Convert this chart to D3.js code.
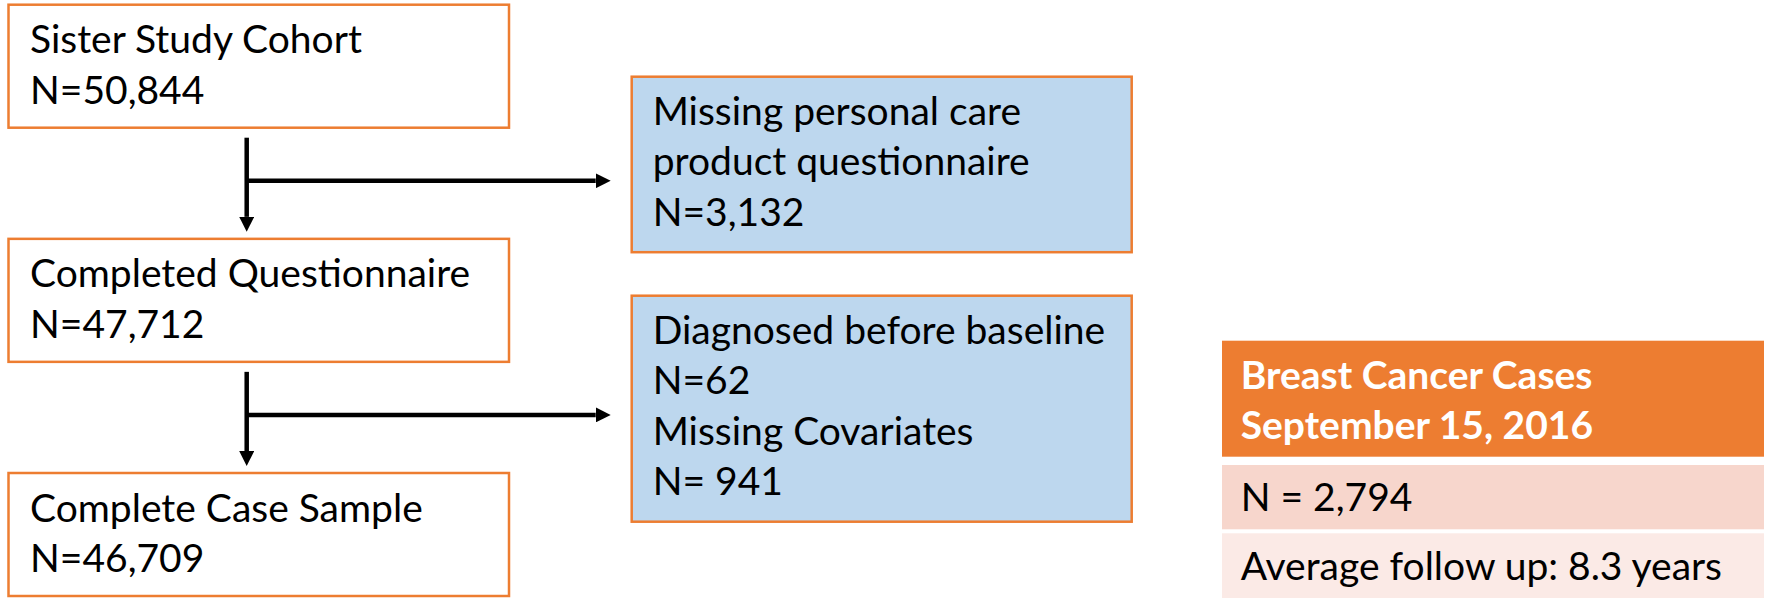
<!DOCTYPE html>
<html>
<head>
<meta charset="utf-8">
<script src="https://cdn.jsdelivr.net/npm/d3@7"></script>
<style>
  body { margin: 0; background: #fff; }
  svg text { font-family: Lato, "Open Sans", sans-serif; }
</style>
</head>
<body>
<svg id="chart" width="1771" height="598"></svg>
<script>
// flow steps (left column)
const mainSteps = [
  ['Sister Study Cohort', 'N=50,844'],
  ['Completed Questionnaire', 'N=47,712'],
  ['Complete Case Sample', 'N=46,709']
];
// exclusions between steps
const exclusions = [
  ['Missing personal care', 'product questionnaire', 'N=3,132'],
  ['Diagnosed before baseline', 'N=62', 'Missing Covariates', 'N= 941']
];
// summary table on the right
const tableHeader = ['Breast Cancer Cases', 'September 15, 2016'];
const tableRows = ['N = 2,794', 'Average follow up: 8.3 years'];

const orange = '#ED7D31';
const blue = '#BDD7EE';
const rowFills = ['#F7D6CC', '#FBEAE6'];
const fontSize = 39;
const lineH = 50.5;
const lineW = 4.5;
const headLen = 15;

const svg = d3.select('#chart');

// arrow head starts where the shaft ends
svg.append('defs').append('marker')
  .attr('id', 'arrow')
  .attr('viewBox', '0 0 10 10')
  .attr('refX', 0).attr('refY', 5)
  .attr('markerWidth', headLen / lineW).attr('markerHeight', headLen / lineW)
  .attr('markerUnits', 'strokeWidth')
  .attr('orient', 'auto')
  .append('path').attr('d', 'M0,0L10,5L0,10Z').attr('fill', '#000');

// left column layout
const mainX = 8.5, mainW = 500.5, mainH = 123;
const mainY = d3.scalePoint().domain(d3.range(mainSteps.length)).range([4.7, 473]);

const mains = svg.selectAll('g.main').data(mainSteps).join('g')
  .attr('class', 'main')
  .attr('transform', (d, i) => `translate(${mainX},${mainY(i)})`);

mains.append('rect')
  .attr('width', mainW).attr('height', mainH)
  .attr('fill', '#fff').attr('stroke', orange).attr('stroke-width', 2.5);

mains.selectAll('text').data(d => d).join('text')
  .attr('x', 21.5)
  .attr('y', (d, i) => 48.5 + i * lineH)
  .attr('font-size', fontSize)
  .attr('fill', '#000')
  .text(d => d);

// exclusion boxes
const exX = 631.7, exW = 500;
const exTops = [76.7, 295.7];
const exH = exclusions.map(d => d.length * lineH + 24);

const exG = svg.selectAll('g.ex').data(exclusions).join('g')
  .attr('class', 'ex')
  .attr('transform', (d, i) => `translate(${exX},${exTops[i]})`);

exG.append('rect')
  .attr('width', exW).attr('height', (d, i) => exH[i])
  .attr('fill', blue).attr('stroke', orange).attr('stroke-width', 2.5);

exG.selectAll('text').data(d => d).join('text')
  .attr('x', 21)
  .attr('y', (d, i) => 48 + i * lineH)
  .attr('font-size', fontSize)
  .attr('fill', '#000')
  .text(d => d);

// connectors
const trunkX = 246.7;
mainSteps.slice(1).forEach((d, i) => {
  const y0 = mainY(i) + mainH + 10;
  const y1 = mainY(i + 1) - 7;
  const by = (y0 + y1) / 2 - 4;
  svg.append('line')
    .attr('x1', trunkX).attr('x2', trunkX)
    .attr('y1', y0).attr('y2', y1 - headLen)
    .attr('stroke', '#000').attr('stroke-width', lineW)
    .attr('marker-end', 'url(#arrow)');
  svg.append('line')
    .attr('x1', trunkX).attr('x2', exX - 21 - headLen)
    .attr('y1', by).attr('y2', by)
    .attr('stroke', '#000').attr('stroke-width', lineW)
    .attr('marker-end', 'url(#arrow)');
});

// right table
const tX = 1222, tW = 542;
const head = svg.append('g').attr('transform', `translate(${tX},340.7)`);
head.append('rect').attr('width', tW).attr('height', 116).attr('fill', orange);
head.selectAll('text').data(tableHeader).join('text')
  .attr('x', 18.7)
  .attr('y', (d, i) => 48.3 + i * 50)
  .attr('font-size', fontSize)
  .attr('font-weight', 'bold')
  .attr('fill', '#fff')
  .text(d => d);

const rowY = d3.scalePoint().domain(d3.range(tableRows.length)).range([465, 533.3]);
const rows = svg.selectAll('g.row').data(tableRows).join('g')
  .attr('class', 'row')
  .attr('transform', (d, i) => `translate(${tX},${rowY(i)})`);
rows.append('rect')
  .attr('width', tW).attr('height', (d, i) => i === 0 ? 64.3 : 70)
  .attr('fill', (d, i) => rowFills[i]);
rows.append('text')
  .attr('x', 18.7).attr('y', (d, i) => 45.7 + i)
  .attr('font-size', fontSize)
  .attr('fill', '#000')
  .text(d => d);
</script>
</body>
</html>
